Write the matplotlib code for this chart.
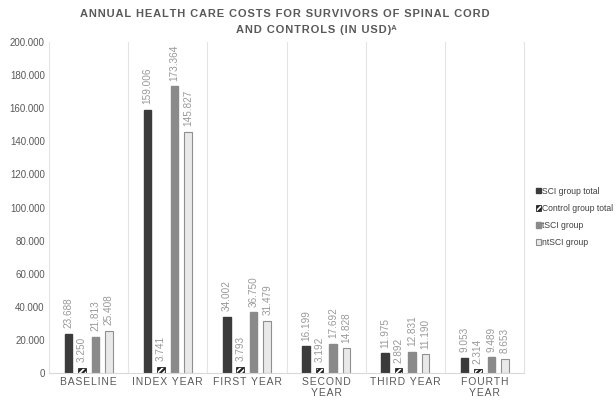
import matplotlib
matplotlib.use("Agg")
import matplotlib.pyplot as plt
import numpy as np

categories = ["BASELINE", "INDEX YEAR", "FIRST YEAR", "SECOND\nYEAR", "THIRD YEAR", "FOURTH\nYEAR"]
series_names = ["SCI group total", "Control group total", "tSCI group", "ntSCI group"]
sci_total = [23688, 159006, 34002, 16199, 11975, 9053]
control_total = [3250, 3741, 3793, 3192, 2892, 2314]
tsci = [21813, 173364, 36750, 17692, 12831, 9489]
ntsci = [25408, 145827, 31479, 14828, 11190, 8653]
yticks = [0, 20000, 40000, 60000, 80000, 100000, 120000, 140000, 160000, 180000, 200000]

plt.rcParams['hatch.linewidth'] = 1.6
plt.rcParams['font.family'] = ['Liberation Sans', 'DejaVu Sans']

def fmt(v):
    return f"{v:,}".replace(",", ".")

def spaced(s, sp="\u200a"):
    return "\n".join(sp.join(list(line)) for line in s.split("\n"))

fig = plt.figure(figsize=(6.16, 4.04), dpi=100)
ax = fig.add_axes([0.0795, 0.0767, 0.7715, 0.8193])

x = np.arange(len(categories))
w = 0.095
step = 0.17
styles = [
    dict(color="#3b3b3b", edgecolor="#3b3b3b"),
    dict(color="white", edgecolor="#222222", hatch="//////", linewidth=0.6),
    dict(color="#8a8a8a", edgecolor="#8a8a8a"),
    dict(color="#e9e9e9", edgecolor="#8f8f8f", linewidth=0.8),
]
data = [sci_total, control_total, tsci, ntsci]
handles = []
for i, (vals, st, name) in enumerate(zip(data, styles, series_names)):
    pos = x + (i - 1.5) * step
    b = ax.bar(pos, vals, width=w, label=name, **st)
    handles.append(b)
    for p, v in zip(pos, vals):
        ax.annotate(fmt(v), (p, v), xytext=(0, 4), textcoords="offset points",
                    rotation=90, ha="center", va="bottom", fontsize=7.2, color="#999999")

ax.set_xlim(-0.5, len(categories) - 0.5)
ax.set_ylim(0, 200000)
ax.set_yticks(yticks)
ax.set_yticklabels([fmt(v) for v in yticks], fontsize=7, color="#595959")
ax.set_xticks(x)
ax.set_xticklabels([spaced(c, "\u200a") for c in categories], fontsize=7.5, color="#595959", linespacing=1.1)
ax.tick_params(axis="both", length=0, pad=3)
for b in np.arange(-0.5, len(categories), 1.0):
    ax.axvline(b, color="#e4e4e4", linewidth=0.8, zorder=0, clip_on=False)
for s in ["top", "right", "left"]:
    ax.spines[s].set_visible(False)
ax.spines["bottom"].set_color("#d9d9d9")
ax.spines["bottom"].set_linewidth(0.8)

fig.text(0.463, 0.965, spaced("ANNUAL HEALTH CARE COSTS FOR SURVIVORS OF SPINAL CORD"),
         ha="center", va="center", fontsize=8, fontweight="bold", color="#595959")
fig.text(0.513, 0.925, spaced("AND CONTROLS (IN USD)") + "\u1d2c",
         ha="center", va="center", fontsize=8, fontweight="bold", color="#595959")

leg = fig.legend(handles=handles, labels=series_names, loc="center left",
                 bbox_to_anchor=(0.864, 0.463), frameon=False, fontsize=6.2,
                 handlelength=0.6, handleheight=0.6, handletextpad=0.1,
                 labelspacing=0.95, borderaxespad=0)
for t in leg.get_texts():
    t.set_color("#404040")

fig.savefig("out.png", dpi=100)
